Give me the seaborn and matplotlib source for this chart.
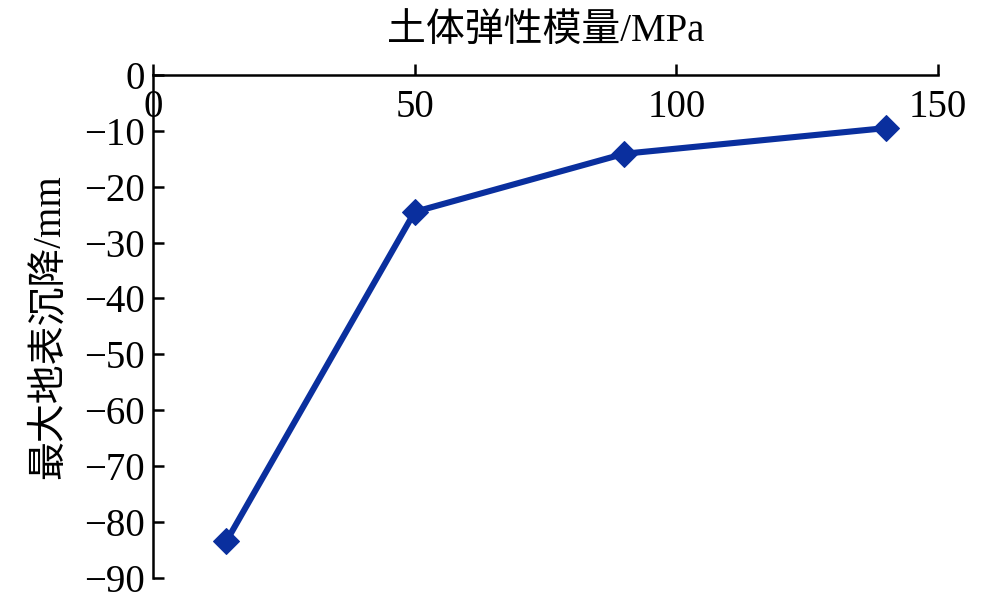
import numpy as np
import pandas as pd
import matplotlib
matplotlib.use('Agg')
import matplotlib.pyplot as plt
import seaborn as sns

sns.set_style('ticks')
plt.rcParams['font.family'] = ['Liberation Serif', 'Noto Sans CJK SC']
plt.rcParams['axes.unicode_minus'] = True

modulus = [14, 50, 90, 140]
settlement = [-83.5, -24.5, -14.1, -9.5]
x_ticks = [0, 50, 100, 150]
y_ticks = [0, -10, -20, -30, -40, -50, -60, -70, -80, -90]

df = pd.DataFrame({'modulus': modulus, 'settlement': settlement})

fig = plt.figure(figsize=(10, 6.05), dpi=100)
ax = fig.add_axes([0.153, 0.045, 0.785, 0.831])

sns.lineplot(data=df, x='modulus', y='settlement', ax=ax, color='#0a2f9e',
             linewidth=4.4, marker='D', markersize=13, markeredgecolor='#0a2f9e')

ax.set_xlim(0, 150)
ax.set_ylim(-90, 0)
ax.set_xticks(x_ticks)
ax.set_yticks(y_ticks)

ax.spines['bottom'].set_position(('data', 0))
ax.spines['top'].set_visible(False)
ax.spines['right'].set_visible(False)
for s in ['bottom', 'left']:
    ax.spines[s].set_linewidth(1.8)
    ax.spines[s].set_color('black')

ax.tick_params(direction='in', length=8, width=1.8, labelsize=28, colors='black')
ax.tick_params(axis='x', pad=10)
ax.tick_params(axis='y', pad=6)

ax.xaxis.set_label_position('top')
ax.set_xlabel('土体弹性模量/MPa', fontsize=28, labelpad=24, color='black')
ax.set_ylabel('最大地表沉降/mm', fontsize=28, labelpad=12, color='black')

fig.savefig('out.png', dpi=100)
